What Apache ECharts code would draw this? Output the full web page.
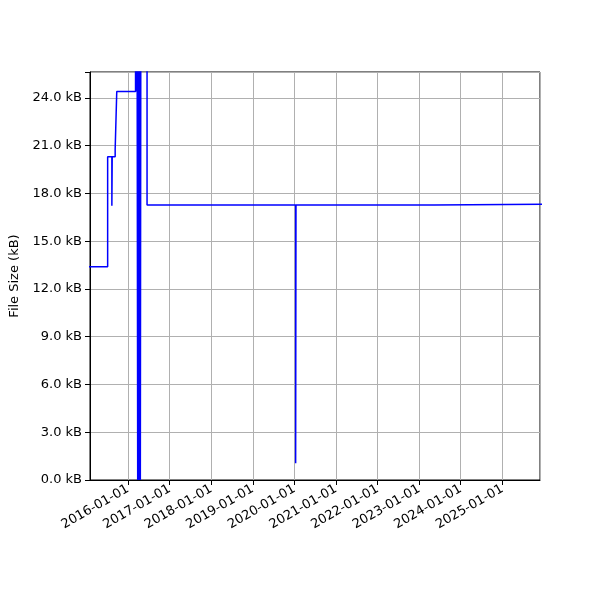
<!DOCTYPE html>
<html>
<head>
<meta charset="utf-8">
<script src="https://cdn.jsdelivr.net/npm/echarts@6/dist/echarts.min.js"></script>
<style>html,body{margin:0;padding:0;background:#fff}#c{width:600px;height:600px}</style>
</head>
<body>
<div id="c"></div>
<script>
// Change dates (value holds until next date), and file sizes in kB
var dates = [
  '2015-01-15', '2015-07-06', '2015-08-12', '2015-08-15', '2015-09-10', '2015-09-24',
  '2016-03-07', '2016-03-12', '2016-03-14', '2016-03-17', '2016-03-21', '2016-03-26',
  '2016-04-01', '2016-04-08', '2016-04-14', '2016-04-18', '2016-04-22',
  '2016-06-16', '2020-01-12', '2020-01-15', '2023-05-12', '2025-12-31'
];
var sizes = [
  13.40, 20.31, 17.23, 20.31, 20.78, 24.40,
  27.0, 24.40, 27.0, 24.40, 27.0, 0.0,
  27.0, 0.0, 27.0, 0.0, 27.0,
  17.28, 1.05, 17.28, 17.32, 17.32
];
var yTicks = [0, 3, 6, 9, 12, 15, 18, 21, 24];

var data = dates.map(function (d, i) { return [d, sizes[i]]; });
var YEAR = 365 * 24 * 3600 * 1000;
var chart = echarts.init(document.getElementById('c'));
chart.setOption({
  animation: false,
  grid: {
    left: 90, right: 60, top: 72, bottom: 120, show: true,
    borderColor: '#000', borderWidth: 1, containLabel: false, outerBoundsMode: 'none'
  },
  xAxis: {
    type: 'time',
    min: '2015-02-01',
    max: '2025-11-27',
    minInterval: YEAR,
    maxInterval: YEAR * 1.01,
    axisLine: { show: true, lineStyle: { color: '#000', width: 1 } },
    axisTick: { show: true, inside: false, length: 5, lineStyle: { color: '#000' } },
    axisLabel: {
      rotate: 30, color: '#000', fontSize: 13, fontFamily: 'DejaVu Sans', margin: 8,
      formatter: '{yyyy}-{MM}-{dd}', hideOverlap: false, showMinLabel: false, showMaxLabel: false
    },
    splitLine: { show: true, lineStyle: { color: '#b0b0b0', width: 1 } }
  },
  yAxis: {
    type: 'value',
    min: 0,
    max: 25.63,
    interval: 3,
    name: 'File Size (kB)',
    nameLocation: 'middle',
    nameGap: 66,
    nameTextStyle: { color: '#000', fontSize: 13, fontFamily: 'DejaVu Sans' },
    axisLine: { show: true, lineStyle: { color: '#000', width: 1 } },
    axisTick: { show: true, inside: false, length: 5, lineStyle: { color: '#000' } },
    axisLabel: {
      color: '#000', fontSize: 13, fontFamily: 'DejaVu Sans', margin: 8,
      customValues: yTicks,
      formatter: function (v) { return v.toFixed(1) + ' kB'; }
    },
    splitLine: { show: true, lineStyle: { color: '#b0b0b0', width: 1 } }
  },
  series: [{
    type: 'line',
    step: 'end',
    data: data,
    symbol: 'none',
    clip: true,
    lineStyle: { color: '#0000ff', width: 1.5 }
  }]
});
</script>
</body>
</html>
